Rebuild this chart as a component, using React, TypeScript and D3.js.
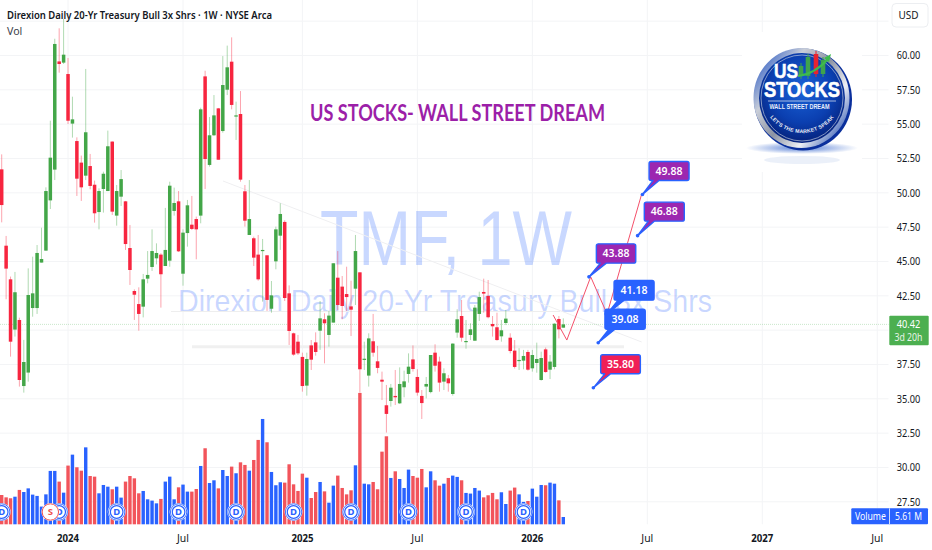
import React from "react";
import * as d3 from "d3";

const opens = [
51.71,46.15,43.70,40.04,40.74,35.93,36.91,41.61,41.61,44.92,
45.79,49.45,51.69,59.57,59.48,58.65,55.04,53.77,52.20,51.25,
51.95,50.59,48.60,50.28,50.13,53.73,48.34,49.72,49.38,45.98,
42.85,41.90,41.71,43.75,44.60,45.23,45.50,44.67,45.06,48.68,
49.38,44.11,47.07,47.68,48.09,48.34,58.48,52.03,54.19,56.15,
54.50,57.51,59.55,55.55,55.74,50.11,46.93,46.69,45.50,45.76,
45.45,41.56,45.01,46.88,47.88,42.68,39.77,39.16,38.05,35.96,
38.89,39.11,39.96,40.79,39.65,40.55,43.82,43.17,42.63,41.73,
43.02,44.21,37.83,36.69,39.19,37.73,36.39,34.53,34.84,35.21,
34.67,35.84,36.81,37.87,36.59,35.21,35.89,35.49,38.36,37.71,
36.25,36.49,35.35,39.82,41.03,39.16,39.65,39.23,41.18,42.78,
42.49,40.45,40.21,39.55,40.52,39.45,38.51,37.78,37.78,38.41,
37.22,37.61,36.37,38.60,37.12,37.32,40.81,40.18];
const closes = [
49.11,44.48,39.16,42.76,36.37,37.68,42.56,42.68,45.62,45.18,
50.13,52.56,60.84,59.38,60.06,55.25,55.35,51.03,50.40,54.41,
50.50,48.51,50.13,51.39,53.39,48.63,50.13,51.00,46.27,44.38,
42.58,41.18,43.70,44.02,45.76,45.62,44.07,45.84,50.52,49.26,
45.74,47.10,49.09,47.37,47.34,56.08,52.46,54.19,55.64,52.41,
57.85,59.14,56.40,55.64,50.96,47.97,48.09,45.28,43.70,45.84,
42.20,42.53,47.34,48.46,42.34,39.94,38.22,38.31,35.93,37.90,
37.85,38.41,40.86,40.50,41.06,44.87,41.83,41.76,42.41,41.49,
45.76,37.15,37.92,39.40,38.36,37.25,36.25,33.90,35.81,35.11,
36.08,36.27,37.34,37.17,35.45,34.69,36.08,38.19,37.41,36.18,
36.86,36.13,39.02,40.79,39.45,39.21,40.06,41.64,42.41,42.66,
40.94,40.28,39.28,39.99,40.84,38.48,37.32,37.83,38.12,37.12,
38.19,37.90,37.97,36.95,37.71,40.47,40.06,40.42];
const highs = [
52.80,46.86,43.90,44.24,40.91,39.29,44.50,45.35,46.20,47.46,
50.40,55.25,61.22,61.98,62.66,59.82,57.00,54.04,52.71,59.02,
52.83,50.89,50.33,51.54,54.53,53.75,50.57,51.66,49.41,47.66,
42.97,43.12,44.09,45.76,47.34,46.32,45.60,48.90,50.81,50.38,
50.13,47.34,49.48,49.77,48.27,56.20,58.89,55.52,57.12,56.18,
59.96,60.72,61.32,56.64,57.41,50.57,50.93,46.81,46.93,46.64,
45.45,43.58,47.54,49.24,48.00,43.26,39.82,39.65,38.36,38.36,
39.28,39.84,42.12,41.23,41.42,44.87,45.76,43.94,44.62,43.60,
46.93,44.21,39.16,39.77,41.18,38.85,36.98,36.01,36.08,37.10,
37.29,37.05,38.31,38.89,37.15,35.64,36.59,38.19,38.97,38.07,
37.22,36.74,39.04,41.52,42.20,40.74,40.50,41.83,42.80,43.75,
43.65,41.03,41.27,40.74,41.47,39.77,39.28,38.68,38.56,38.56,
38.56,39.09,38.43,38.73,38.19,40.50,41.03,40.86];
const lows = [
47.85,42.25,38.07,39.53,35.89,35.45,36.25,40.98,41.18,44.92,
45.79,48.82,50.93,58.75,59.38,55.01,54.02,49.77,49.41,50.93,
50.26,47.83,47.34,48.56,50.13,48.39,47.61,49.04,45.84,43.29,
40.74,39.96,40.93,43.41,44.31,44.79,41.64,44.67,44.62,48.34,
45.69,43.24,46.08,47.29,45.16,47.78,50.28,51.91,54.14,52.41,
54.38,57.12,56.08,53.85,50.81,47.54,46.93,44.67,43.60,42.08,
41.40,41.27,44.43,45.84,42.12,38.92,38.14,38.19,35.52,35.23,
37.10,38.14,38.56,37.58,38.80,40.55,41.47,40.79,41.40,39.57,
41.83,35.45,37.10,35.89,38.07,36.86,34.91,32.54,34.43,34.55,
34.62,35.11,36.18,36.98,35.23,33.53,35.03,35.40,36.98,35.52,
35.64,35.52,35.23,39.45,39.16,38.65,39.28,39.23,40.67,41.27,
40.86,39.53,39.23,39.16,40.37,38.31,37.20,37.10,37.15,37.05,
36.98,36.90,36.32,36.90,36.44,37.15,39.40,40.18];
const volumes = [
22.5,20.7,20.0,21.2,26.4,24.8,27.6,22.8,21.8,13.6,
23.0,41.0,41.0,32.8,24.3,45.1,53.5,43.8,41.2,59.1,
37.1,36.6,23.8,30.2,28.9,26.9,28.9,20.5,32.8,37.1,
35.3,23.8,25.6,19.2,18.2,16.1,19.5,32.8,36.6,19.2,
28.4,30.5,25.1,25.1,27.1,44.8,58.4,31.7,33.8,27.6,
41.7,37.1,44.3,39.2,47.6,45.6,41.2,49.4,64.8,80.9,
63.0,40.2,30.0,32.3,32.0,46.1,30.7,25.6,38.9,35.8,
20.2,24.8,32.5,25.3,16.6,29.7,37.4,27.9,23.0,26.1,
45.3,100.9,31.2,30.7,32.5,26.9,55.8,67.6,35.6,40.7,
34.8,27.9,42.0,37.1,35.8,42.5,28.4,40.7,33.8,29.7,
31.2,35.6,37.4,36.4,33.8,24.1,23.6,27.9,25.9,20.7,
22.3,24.1,19.2,24.6,15.6,25.9,28.2,23.0,17.2,17.9,
27.4,21.2,30.2,30.0,32.0,31.2,18.4,5.61];

const priceTicks = [62.5,60,57.5,55,52.5,50,47.5,45,42.5,40,37.5,35,32.5,30,27.5];
const timeTicks = [
  { i: 15, label: "2024", year: true }, { i: 41, label: "Jul", year: false },
  { i: 68, label: "2025", year: true }, { i: 94, label: "Jul", year: false },
  { i: 120, label: "2026", year: true }, { i: 146, label: "Jul", year: false },
  { i: 172, label: "2027", year: true }, { i: 198, label: "Jul", year: false },
];
const dividendIdx = [0,13,26,40,53,66,79,92,105,118];
const splitIdx = [11];
const forecastI = [124.7,127.8,133.2,136.9,144.7];
const forecastP = [41.10,39.28,43.88,41.18,49.88];
const callouts = [
  { text: "49.88", i: 144.9, p: 49.88, fill: "#9c27b0", hollow: false, dx: 6.6, dy: -33 , w: 40, h: 19 },
  { text: "46.88", i: 143.8, p: 46.88, fill: "#9c27b0", hollow: false, dx: 6.7, dy: -33.5, w: 40, h: 19 },
  { text: "43.88", i: 132.8, p: 43.88, fill: "#9c27b0", hollow: false, dx: 7.4, dy: -33, w: 39.4, h: 19.3 },
  { text: "41.18", i: 136.9, p: 41.18, fill: "#2962ff", hollow: true, dx: 7, dy: -33.5, w: 40, h: 19.7 },
  { text: "39.08", i: 134.9, p: 39.08, fill: "#2962ff", hollow: false, dx: 6.7, dy: -33.5, w: 40.3, h: 20 },
  { text: "35.80", i: 133.8, p: 35.80, fill: "#f01f56", hollow: false, dx: 7.3, dy: -33, w: 39.7, h: 19 },
];
const lastPrice = 40.42;
const countdown = "3d 20h";

const W = 932, H = 550, plotR = 888.5, base = 524.3;
const FONT = "'Noto Sans', sans-serif";

function Logo() {
  const cx = 803, cy = 98;
  const sticks: [number, number, number, string][] = [
    [801,66,76,"#3fa34d"],[808,57,76,"#3fa34d"],[816,54,74,"#e8232f"],[823,60,74,"#3fa34d"],
  ];
  return (
    <g>
      <defs>
        <radialGradient id="lg-blue" cx="50%" cy="40%" r="62%">
          <stop offset="0%" stopColor="#1a63d8" /><stop offset="60%" stopColor="#0b3fb0" /><stop offset="100%" stopColor="#052078" />
        </radialGradient>
        <linearGradient id="lg-ring" x1="0" y1="0.1" x2="1" y2="0.9">
          <stop offset="0%" stopColor="#1b4fc4" /><stop offset="28%" stopColor="#c9ced8" /><stop offset="50%" stopColor="#8c93a3" /><stop offset="72%" stopColor="#eef0f4" /><stop offset="100%" stopColor="#0f3da8" />
        </linearGradient>
        <radialGradient id="lg-sh" cx="50%" cy="50%" r="50%">
          <stop offset="0%" stopColor="#1f55c8" stopOpacity="0.75" /><stop offset="100%" stopColor="#1f55c8" stopOpacity="0" />
        </radialGradient>
        <path id="lg-arc" d={`M ${cx-40} ${cy+4} A 40 40 0 0 0 ${cx+38} ${cy+4}`} />
      </defs>
      <rect x={742} y={32} width={120} height={140} fill="#fff" />
      <ellipse cx={cx-1} cy={148} rx={56} ry={6} fill="url(#lg-sh)" />
      <ellipse cx={cx-1} cy={160} rx={38} ry={4} fill="#e3e9f6" opacity={0.7} />
      <ellipse cx={cx} cy={cy+1.5} rx={49} ry={51} fill="#0a2f9c" />
      <ellipse cx={cx-1.5} cy={cy} rx={48} ry={50} fill="url(#lg-ring)" />
      <ellipse cx={cx-1} cy={cy} rx={43} ry={45} fill="url(#lg-blue)" />
      <ellipse cx={cx-1} cy={cy} rx={41} ry={43} fill="none" stroke="#d5dbe8" strokeWidth={0.6} />
      {sticks.map(([x, y1, y2, c], k) => (
        <g key={k}>
          <line x1={x} x2={x} y1={y1 - 3} y2={y2 + 3} stroke={c} strokeWidth={1} />
          <rect x={x - 2.3} y={y1} width={4.6} height={y2 - y1} fill={c} />
        </g>
      ))}
      <path d="M 798 76 Q 815 74 829 58" fill="none" stroke="#3dbb4e" strokeWidth={2} />
      <path d="M 831 54 L 824 58 L 829 62 Z" fill="#3dbb4e" />
      <text x={786} y={78} textAnchor="middle" textLength={24} lengthAdjust="spacingAndGlyphs" fontFamily="'Liberation Sans'" fontWeight={700} fontSize={21} fill="#fff" stroke="#fff" strokeWidth={0.5}>US</text>
      <text x={802} y={97} textAnchor="middle" textLength={76} lengthAdjust="spacingAndGlyphs" fontFamily="'Liberation Sans'" fontWeight={700} fontSize={22} fill="#fff" stroke="#fff" strokeWidth={0.6}>STOCKS</text>
      <line x1={768} x2={836} y1={101} y2={101} stroke="#e8ecf5" strokeWidth={0.7} />
      <text x={799.5} y={108.5} textAnchor="middle" textLength={60} lengthAdjust="spacingAndGlyphs" fontFamily="'Liberation Sans'" fontWeight={700} fontSize={6.5} fill="#e8eefc">WALL STREET DREAM</text>
      <text fontFamily="'Liberation Sans'" fontWeight={700} fontSize={5.2} fill="#e8ecf5" letterSpacing={0.2}>
        <textPath href="#lg-arc" startOffset="50%" textAnchor="middle">LET'S THE MARKET SPEAK</textPath>
      </text>
    </g>
  );
}

export default function App() {
  const n = opens.length;
  const x = d3.scaleLinear().domain([0, n - 1]).range([1.7, 563.3]);
  const y = d3.scaleLinear().domain([60, 27.5]).range([55.5, 501.8]);
  const v = d3.scaleLinear().domain([0, 100]).range([base, base - 130.2]);
  const lineGen = d3.line<number>().x((_, k) => x(forecastI[k])).y((p) => y(p));
  const bodyW = 3.5, volW = 3.4;
  const GREEN = "#43a648", RED = "#f7253f", BLUE = "#2962ff", VRED = "#f2545b";
  const py = y(lastPrice);

  const calloutPath = (cx: number, cy: number, c: (typeof callouts)[number]) => {
    const l = cx + c.dx, t = cy + c.dy, r = l + c.w, b = t + c.h, rr = 2;
    return `M ${cx} ${cy} L ${l + 4} ${b} L ${l + rr} ${b} Q ${l} ${b} ${l} ${b - rr} L ${l} ${t + rr} Q ${l} ${t} ${l + rr} ${t} L ${r - rr} ${t} Q ${r} ${t} ${r} ${t + rr} L ${r} ${b - rr} Q ${r} ${b} ${r - rr} ${b} L ${l + 10} ${b} Z`;
  };

  return (
    <div>
      <svg width={W} height={H} viewBox={`0 0 ${W} ${H}`} style={{ position: "fixed", left: 0, top: 0, background: "#fff" }}>
        {priceTicks.map((t) => (
          <line key={t} x1={0} x2={plotR} y1={y(t)} y2={y(t)} stroke="#f3f4f6" strokeWidth={1} />
        ))}
        {timeTicks.map((t) => (
          <line key={t.i} x1={x(t.i)} x2={x(t.i)} y1={0} y2={base} stroke="#f3f4f6" strokeWidth={1} />
        ))}
        <Logo />

        <text x={446} y={265} textAnchor="middle" textLength={252} lengthAdjust="spacingAndGlyphs" fontFamily="'Liberation Sans'" fontSize={78} fill="#2962ff" fillOpacity={0.25}>TMF, 1W</text>
        <text x={445} y={311.7} textAnchor="middle" textLength={534} lengthAdjust="spacingAndGlyphs" fontFamily="'Liberation Sans'" fontSize={32} fill="#2962ff" fillOpacity={0.25}>Direxion Daily 20-Yr Treasury Bull 3x Shrs</text>

        <line x1={223} y1={181} x2={641.7} y2={342} stroke="#efeff1" strokeWidth={1} />
        <line x1={171} y1={311.5} x2={560} y2={311.5} stroke="#eeeeee" strokeWidth={1} />
        <line x1={192} y1={346.7} x2={624} y2={346.7} stroke="#f0f0f0" strokeWidth={3} />

        <line x1={0} x2={plotR} y1={py} y2={py} stroke="#4caf50" strokeOpacity={0.3} strokeWidth={1} strokeDasharray="1 1" />

        {volumes.map((val, i) => (
          <rect key={i} x={x(i) - volW / 2} y={v(val)} width={volW} height={base - v(val)}
            fill={closes[i] >= opens[i] ? BLUE : VRED} />
        ))}
        {dividendIdx.map((i) => (
          <g key={i}>
            <circle cx={x(i)} cy={512} r={9} fill="#fff" />
            <circle cx={x(i)} cy={512} r={8.2} fill="#fff" stroke={BLUE} strokeWidth={0.9} />
            <circle cx={x(i)} cy={512} r={6.3} fill="#fff" stroke={BLUE} strokeWidth={1.2} />
            <text x={x(i)} y={515.4} textAnchor="middle" fontFamily={FONT} fontSize={9.5} fontWeight={700} fill={BLUE}>D</text>
          </g>
        ))}
        {splitIdx.map((i) => (
          <g key={i}>
            <circle cx={x(i)} cy={512} r={9} fill="#fff" />
            <circle cx={x(i)} cy={512} r={8.2} fill="#fff" stroke="#f0524f" strokeWidth={1} />
            <text x={x(i)} y={515.4} textAnchor="middle" fontFamily={FONT} fontSize={9.5} fontWeight={700} fill="#f0524f">S</text>
          </g>
        ))}

        {opens.map((o, i) => {
          const c = closes[i], col = c >= o ? GREEN : RED;
          const top = y(Math.max(o, c)), bot = y(Math.min(o, c));
          return (
            <g key={i}>
              <line x1={x(i)} x2={x(i)} y1={y(highs[i])} y2={y(lows[i])} stroke={col} strokeOpacity={0.42} strokeWidth={1} />
              <rect x={x(i) - bodyW / 2} y={top} width={bodyW} height={Math.max(bot - top, 1.2)} fill={col} />
            </g>
          );
        })}

        <path d={lineGen(forecastP) ?? ""} fill="none" stroke="#f4506a" strokeWidth={1} />

        {callouts.map((c) => {
          const cx = x(c.i), cy = y(c.p);
          return (
            <g key={c.text}>
              <path d={calloutPath(cx, cy, c)} fill={c.fill} stroke={BLUE} strokeWidth={1.4} strokeLinejoin="round" />
              {c.hollow
                ? <circle cx={cx} cy={cy} r={2.2} fill="#fff" stroke={BLUE} strokeWidth={1} />
                : <circle cx={cx} cy={cy} r={1.8} fill={BLUE} />}
              <text x={cx + c.dx + c.w / 2} y={cy + c.dy + c.h / 2 + 3.7} textAnchor="middle" fontFamily={FONT} fontSize={10.5} fontWeight={600} fill="#fff">{c.text}</text>
            </g>
          );
        })}

        <text x={457.5} y={121} textAnchor="middle" textLength={295} lengthAdjust="spacingAndGlyphs" fontFamily="Lato" fontWeight={700} fontSize={22} fill="#9c1fa8">US STOCKS- WALL STREET DREAM</text>
        <text x={7} y={19} textLength={265} lengthAdjust="spacingAndGlyphs" fontFamily={FONT} fontWeight={600} fontSize={10.6} fill="#131722">Direxion Daily 20-Yr Treasury Bull 3x Shrs · 1W · NYSE Arca</text>
        <text x={7} y={35} fontFamily={FONT} fontSize={10.6} fill="#3a3e4a">Vol</text>

        <rect x={892} y={3.5} width={36} height={23.5} rx={4} fill="#fff" stroke="#eceef1" />
        <text x={908.5} y={19} textAnchor="middle" fontFamily={FONT} fontSize={10} fill="#131722">USD</text>
        {priceTicks.filter((t) => t <= 60 && t !== 40).map((t) => (
          <text key={t} x={908.5} y={y(t) + 3.9} textAnchor="middle" textLength={23.5} lengthAdjust="spacingAndGlyphs" fontFamily={FONT} fontSize={11} fill="#131722">{t.toFixed(2)}</text>
        ))}
        <rect x={889.3} y={py - 8.6} width={39.4} height={29.4} rx={1} fill="#4caf50" />
        <text x={908.5} y={py + 3.6} textAnchor="middle" textLength={23.5} lengthAdjust="spacingAndGlyphs" fontFamily={FONT} fontSize={11} fill="#fff">{lastPrice.toFixed(2)}</text>
        <text x={908.5} y={py + 17} textAnchor="middle" textLength={28} lengthAdjust="spacingAndGlyphs" fontFamily={FONT} fontSize={10.5} fill="#e8f5e9">{countdown}</text>
        <rect x={851.3} y={508.3} width={76.7} height={16} rx={1} fill={BLUE} />
        <line x1={889.5} x2={889.5} y1={508.3} y2={524.3} stroke="#cfdcff" />
        <text x={870.4} y={520} textAnchor="middle" textLength={31} lengthAdjust="spacingAndGlyphs" fontFamily={FONT} fontSize={10.5} fill="#fff">Volume</text>
        <text x={908.5} y={520} textAnchor="middle" textLength={27} lengthAdjust="spacingAndGlyphs" fontFamily={FONT} fontSize={10.5} fill="#fff">{volumes[n - 1].toFixed(2)} M</text>

        {timeTicks.map((t) => (
          <text key={t.i} x={x(t.i)} y={541.5} textAnchor="middle" textLength={t.year ? 22 : 12} lengthAdjust="spacingAndGlyphs" fontFamily={FONT} fontSize={11}
            fontWeight={t.year ? 700 : 400} fill="#131722">{t.label}</text>
        ))}
      </svg>
    </div>
  );
}
